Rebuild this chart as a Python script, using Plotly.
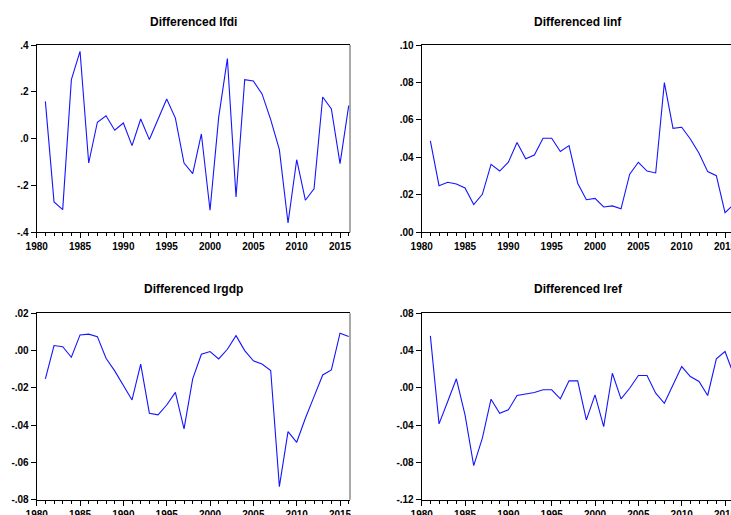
import plotly.graph_objects as go

# Annual observations, first differences of the log series
years = list(range(1981, 2017))

lfdi = [0.159, -0.270, -0.303, 0.252, 0.373, -0.104, 0.070, 0.098, 0.036, 0.067,
        -0.030, 0.084, -0.004, 0.081, 0.169, 0.088, -0.104, -0.149, 0.020, -0.306,
        0.092, 0.342, -0.249, 0.252, 0.246, 0.191, 0.081, -0.047, -0.360, -0.090,
        -0.263, -0.214, 0.178, 0.127, -0.107, 0.141]

linf = [0.0488, 0.0249, 0.0267, 0.0258, 0.0237, 0.0148, 0.0203, 0.0363, 0.0327, 0.0374,
        0.0479, 0.0393, 0.0413, 0.0502, 0.0502, 0.0431, 0.0463, 0.0262, 0.0174, 0.0181,
        0.0135, 0.0141, 0.0125, 0.0310, 0.0374, 0.0327, 0.0317, 0.0799, 0.0555, 0.0561,
        0.0498, 0.0422, 0.0324, 0.0302, 0.0105, 0.0148]

lrgdp = [-0.0152, 0.0027, 0.0021, -0.0036, 0.0084, 0.0088, 0.0075, -0.0041, -0.0109, -0.0184,
         -0.0265, -0.0073, -0.0336, -0.0345, -0.0292, -0.0224, -0.0420, -0.0152, -0.0020, -0.0005,
         -0.0045, 0.0007, 0.0080, 0.0000, -0.0055, -0.0072, -0.0107, -0.0730, -0.0435, -0.0492,
         -0.0363, -0.0247, -0.0131, -0.0104, 0.0093, 0.0075]

lref = [0.0558, -0.0386, -0.0147, 0.0097, -0.0290, -0.0834, -0.0540, -0.0122, -0.0272, -0.0236,
        -0.0082, -0.0068, -0.0050, -0.0021, -0.0021, -0.0118, 0.0075, 0.0075, -0.0343, -0.0075,
        -0.0415, 0.0157, -0.0118, -0.0004, 0.0132, 0.0132, -0.0057, -0.0165, 0.0032, 0.0229,
        0.0122, 0.0068, -0.0082, 0.0311, 0.0390, 0.0143]

titles = ["Differenced lfdi", "Differenced linf", "Differenced lrgdp", "Differenced lref"]

lfdi_ticks = [-0.4, -0.2, 0.0, 0.2, 0.4]
lfdi_labels = ["-.4", "-.2", ".0", ".2", ".4"]
linf_ticks = [0.0, 0.02, 0.04, 0.06, 0.08, 0.10]
linf_labels = [".00", ".02", ".04", ".06", ".08", ".10"]
lrgdp_ticks = [-0.08, -0.06, -0.04, -0.02, 0.0, 0.02]
lrgdp_labels = ["-.08", "-.06", "-.04", "-.02", ".00", ".02"]
lref_ticks = [-0.12, -0.08, -0.04, 0.0, 0.04, 0.08]
lref_labels = ["-.12", "-.08", "-.04", ".00", ".04", ".08"]

W, H = 731, 515
FONT = "Liberation Sans"

panels = [
    dict(y=lfdi, tv=lfdi_ticks, tt=lfdi_labels, xd=[36.7 / W, 350 / W], yd=[1 - 232.3 / H, 1 - 45 / H],
         xr=[1980, 2016.15], right=True),
    dict(y=linf, tv=linf_ticks, tt=linf_labels, xd=[421.7 / W, 1.0], yd=[1 - 232.3 / H, 1 - 45 / H],
         xr=[1980, 2015.69], right=False),
    dict(y=lrgdp, tv=lrgdp_ticks, tt=lrgdp_labels, xd=[36.7 / W, 350 / W], yd=[1 - 499.7 / H, 1 - 313.3 / H],
         xr=[1980, 2016.15], right=True),
    dict(y=lref, tv=lref_ticks, tt=lref_labels, xd=[421.7 / W, 1.0], yd=[1 - 499.7 / H, 1 - 313.3 / H],
         xr=[1980, 2015.69], right=False),
]
title_centres = [(193.3, 22), (578, 22), (193.3, 289), (578, 289)]

fig = go.Figure()
layout = dict(
    width=W, height=H,
    margin=dict(l=0, r=0, t=0, b=0, autoexpand=False),
    paper_bgcolor="white", plot_bgcolor="white",
    showlegend=False,
    annotations=[], shapes=[],
)

tickfont = dict(family=FONT, size=10, color="black", weight="bold")

for i, p in enumerate(panels, start=1):
    xa = "x" if i == 1 else f"x{i}"
    ya = "y" if i == 1 else f"y{i}"
    fig.add_trace(go.Scatter(x=years, y=p["y"], mode="lines",
                             line=dict(color="#1414ff", width=1.1),
                             xaxis=xa, yaxis=ya, hoverinfo="skip"))
    lo, hi = p["tv"][0], p["tv"][-1]
    layout["xaxis" if i == 1 else f"xaxis{i}"] = dict(
        domain=p["xd"], anchor=ya, range=p["xr"], automargin=False, ticklabeloverflow="allow",
        tick0=1980, dtick=5, ticks="outside", ticklen=5, tickwidth=1, tickcolor="black",
        minor=dict(dtick=1, tick0=1980, ticks="outside", ticklen=3, tickcolor="black", tickwidth=1),
        showline=True, linecolor="black", linewidth=1, mirror=True,
        showgrid=False, zeroline=False, tickfont=tickfont, fixedrange=True,
    )
    layout["yaxis" if i == 1 else f"yaxis{i}"] = dict(
        domain=p["yd"], anchor=xa, range=[lo, hi], automargin=False, ticklabeloverflow="allow",
        tickvals=p["tv"], ticktext=p["tt"],
        ticks="outside", ticklen=5, tickwidth=1, tickcolor="black",
        showline=True, linecolor="black", linewidth=1,
        showgrid=False, zeroline=False, tickfont=tickfont, fixedrange=True,
    )
    if p["right"]:
        layout["shapes"].append(dict(
            type="line", xref="paper", yref="paper",
            x0=p["xd"][1], x1=p["xd"][1], y0=p["yd"][0], y1=p["yd"][1],
            line=dict(color="#8c8c8c", width=1.5)))
    cx, cy = title_centres[i - 1]
    layout["annotations"].append(dict(
        text=titles[i - 1], xref="paper", yref="paper",
        x=cx / W, y=1 - cy / H, xanchor="center", yanchor="middle", showarrow=False,
        font=dict(family=FONT, size=12, color="black", weight="bold")))

fig.update_layout(**layout)
fig.write_html("out.html", config={"displayModeBar": False})
